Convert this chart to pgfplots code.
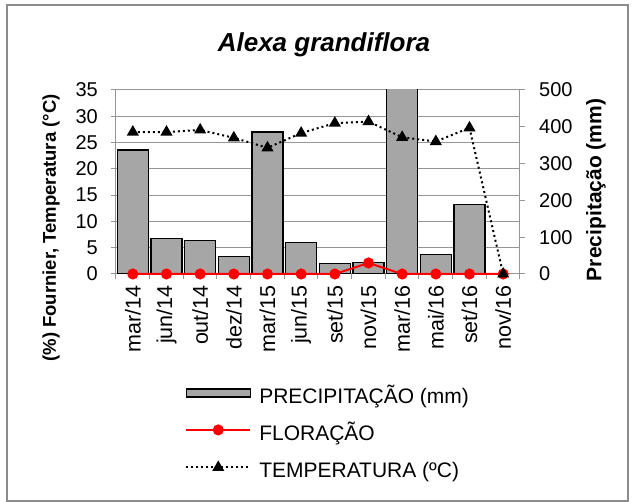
\documentclass[border=0pt]{standalone}
\usepackage{fontspec}
\setmainfont{Liberation Sans}
\usepackage{pgfplots}
\usepackage{pgfplotstable}
\pgfplotsset{compat=1.18}

\definecolor{gridgray}{RGB}{150,150,150}
\definecolor{bargray}{RGB}{166,166,166}
\definecolor{framegray}{RGB}{140,140,140}

% x: category index, prec: mm (right axis), flor / temp: left axis
\pgfplotstableread{
x  prec  flor  temp
0  337   0     27.0
1  97    0     27.0
2  90.5  0     27.4
3  47    0     25.9
4  386   0     24.0
5  86    0     26.8
6  28    0     28.7
7  31    2.1   29.0
8  600   0     26.0
9  53.5  0     25.2
10 188   0     27.8
11 nan   0     0
}\dados

\pgfplotsset{
  base/.style={
    scale only axis, width=404pt, height=184pt,
    at={(0,0)}, anchor=south west,
    xmin=-0.5, xmax=11.5,
    /pgf/number format/assume math mode=true,
    ticklabel style={font=\fontsize{20}{22}\selectfont},
    tick align=outside,
  },
  linelegend/.style={legend image code/.code={
    \draw[mark repeat=2, mark phase=2, ##1] plot coordinates {(0pt,5pt) (32pt,5pt) (64pt,5pt)};}},
  barlegend/.style={legend image code/.code={
    \draw[##1] (0pt,1pt) rectangle (64pt,9pt);}},
}

\begin{document}
\begin{tikzpicture}[x=1pt,y=1pt]
\path[use as bounding box] (-116,-228) rectangle (517,274);
\draw[framegray, line width=1.4pt] (-109,-227) rectangle (512,269);

% eixo esquerdo: grade, rotulos x
\begin{axis}[base,
  ymin=0, ymax=35, ytick={0,5,...,35},
  axis x line*=bottom, axis y line*=left,
  axis line style={gridgray, line width=1pt},
  ymajorgrids, grid style={gridgray, line width=1pt},
  xtick={0,...,11},
  xticklabels={mar/14,jun/14,out/14,dez/14,mar/15,jun/15,set/15,nov/15,mar/16,mai/16,set/16,nov/16},
  major x tick style={draw=none},
  minor xtick={-0.5,0.5,...,11.5},
  minor x tick style={gridgray, line width=1pt},
  minor tick length=5pt, major tick length=5pt,
  ytick style={gridgray, line width=1pt},
  xticklabel style={yshift=-6pt, rotate=90, anchor=east, inner sep=0pt,
    font=\fontsize{21.5}{23}\selectfont},
  yticklabel style={anchor=east, inner sep=0pt, xshift=-13pt},
]
\end{axis}

% eixo direito: precipitacao
\begin{axis}[base,
  ymin=0, ymax=500, ytick={0,100,...,500},
  axis x line=none, axis y line*=right,
  axis line style={gridgray, line width=1pt},
  ytick style={gridgray, line width=1pt},
  major tick length=5pt,
  yticklabel style={anchor=west, inner sep=0pt, xshift=14pt},
]
\addplot[ybar, bar width=0.92, fill=bargray, draw=black, line width=1.3pt]
  table[x=x, y=prec] {\dados};
\end{axis}

% linhas: floracao e temperatura
\begin{axis}[base,
  ymin=0, ymax=35, hide axis, clip=false,
  legend style={at={(0.171,-0.62)}, anchor=north west, draw=none, fill=none,
    font=\fontsize{21}{23}\selectfont, inner sep=0pt, row sep=18pt,
    nodes={inner sep=0pt, text height=15pt, text depth=4pt},
    /tikz/every odd column/.append style={column sep=8pt}},
  legend cell align=left,
  linelegend,
]
\addlegendimage{fill=bargray, draw=black, line width=1.3pt, barlegend}
\addlegendentry{PRECIPITAÇÃO (mm)}
\addplot[red, line width=2pt, mark=*, mark size=4.5pt, mark options={solid, fill=red}]
  table[x=x, y=flor] {\dados};
\addlegendentry{FLORAÇÃO}
\addplot[black, line width=2pt, dash pattern=on 2pt off 3pt, mark=triangle*, mark size=5pt,
  mark options={solid, fill=black}]
  table[x=x, y=temp] {\dados};
\addlegendentry{TEMPERATURA (ºC)}
\end{axis}

\node[font=\fontsize{26}{28}\selectfont\bfseries\itshape, anchor=base] at (208,222) {Alexa grandiflora};
\node[font=\fontsize{18.5}{20}\selectfont\bfseries, rotate=90] at (-65,46) {(\%) Fournier, Temperatura (°C)};
\node[font=\fontsize{21}{23}\selectfont\bfseries, rotate=90] at (480,84) {Precipitação (mm)};
\end{tikzpicture}
\end{document}
